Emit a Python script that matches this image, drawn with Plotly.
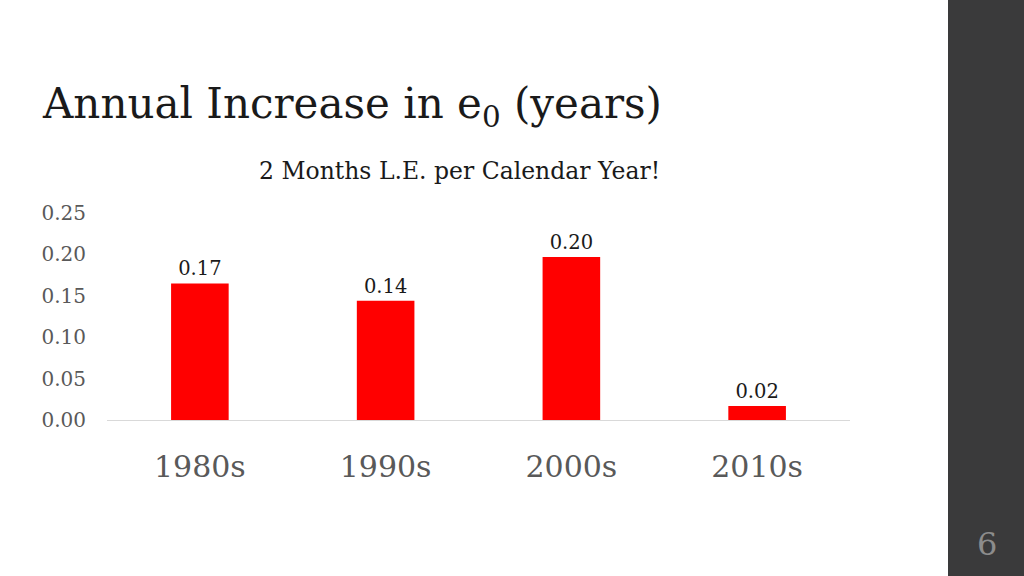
import plotly.graph_objects as go

categories = ["1980s", "1990s", "2000s", "2010s"]
values = [0.165, 0.144, 0.197, 0.017]
y_ticks = [0.00, 0.05, 0.10, 0.15, 0.20, 0.25]

W, H = 1024, 576
L, R, T, B = 107, 1024 - 850, 213, 576 - 420
PW, PH = W - L - R, H - T - B

def px(x):
    return (x - L) / PW

def py(y):
    return (H - B - y) / PH

FONT = "DejaVu Serif"

fig = go.Figure(go.Bar(
    x=categories, y=values,
    marker=dict(color="#ff0000", line=dict(width=0)),
    width=0.31,
    text=[f"{v:.2f}" for v in values],
    textposition="outside",
    textfont=dict(family=FONT, size=19.5, color="#1a1a1a"),
    cliponaxis=False,
))

fig.update_layout(
    width=W, height=H,
    margin=dict(l=L, r=R, t=T, b=B, autoexpand=False),
    paper_bgcolor="white", plot_bgcolor="white",
    showlegend=False,
    font=dict(family=FONT),
    xaxis=dict(
        showline=True, linecolor="#d9d9d9", linewidth=1,
        showgrid=False, ticks="",
        tickfont=dict(family=FONT, size=30, color="#595959"),
        ticklabelstandoff=20,
    ),
    yaxis=dict(
        range=[0, 0.25], tickvals=y_ticks,
        ticktext=[f"{t:.2f}" for t in y_ticks],
        showgrid=False, zeroline=False, showline=False, ticks="",
        tickfont=dict(family=FONT, size=20, color="#595959"),
        ticklabelstandoff=20,
    ),
    shapes=[dict(
        type="rect", xref="paper", yref="paper",
        x0=px(948), x1=px(1030), y0=py(590), y1=py(-10),
        fillcolor="#3a3a3b", line=dict(width=0), layer="below",
    )],
    annotations=[
        dict(text="Annual Increase in e<sub>0</sub> (years)", xref="paper", yref="paper",
             x=px(40), y=py(107), xanchor="left", yanchor="middle", showarrow=False,
             font=dict(family=FONT, size=42, color="#1a1a1a")),
        dict(text="2 Months L.E. per Calendar Year!", xref="paper", yref="paper",
             x=px(459), y=py(171), xanchor="center", yanchor="middle", showarrow=False,
             font=dict(family=FONT, size=23.5, color="#1a1a1a")),
        dict(text="6", xref="paper", yref="paper",
             x=px(987), y=py(544), xanchor="center", yanchor="middle", showarrow=False,
             font=dict(family=FONT, size=32, color="#8c8c8c")),
    ],
)

fig.write_html(
    "out.html",
    config={"displayModeBar": False},
    post_script="document.body.style.margin='0';document.body.style.overflow='hidden';",
)
